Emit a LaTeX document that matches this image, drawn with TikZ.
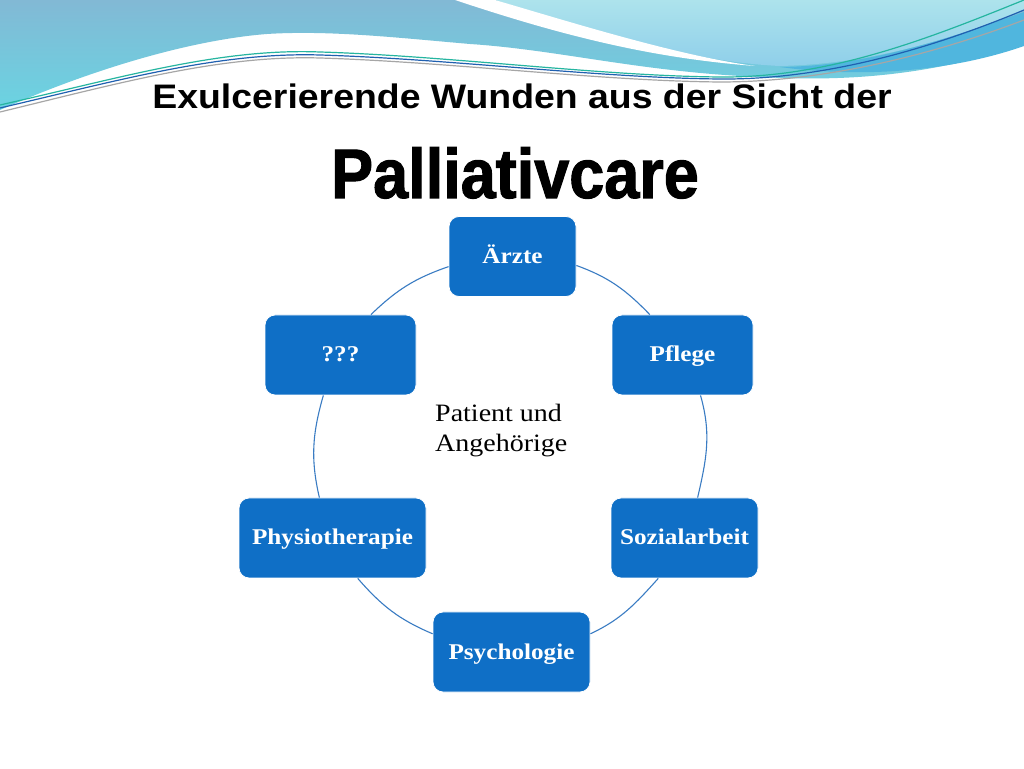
\documentclass[tikz,border=0pt]{standalone}
\usepackage{fontspec}
\setmainfont{Liberation Serif}
\newfontfamily\boxfont{Liberation Serif}[FakeStretch=1.12]
\newfontfamily\headfont{Liberation Sans}[FakeStretch=1.1]
\newfontfamily\bigfont{Liberation Sans}[FakeStretch=0.9,FakeBold=1.5]
\definecolor{teamblue}{HTML}{0F6FC6}
\definecolor{ringblue}{HTML}{3A7CC3}
\definecolor{waveblue}{HTML}{82B9D5}
\definecolor{wavecyan}{HTML}{6AD4E2}
\definecolor{palecyan}{HTML}{ADE3EC}
\definecolor{skycyan}{HTML}{8FCFEA}
\definecolor{bandblue}{HTML}{50B6DE}
\definecolor{lineteal}{HTML}{25B5A0}
\definecolor{linedark}{HTML}{2060B0}
\begin{document}
\begin{tikzpicture}[x=1pt,y=1pt,tb/.style={draw=white,line width=0.8pt,fill=teamblue,
					rounded corners=10pt,minimum height=80pt,inner sep=0pt,text=white,
					font=\boxfont\bfseries\fontsize{22.5}{27}\selectfont,text height=18pt,text depth=4pt},
					ln/.style={draw=ringblue,line width=1.1pt}]
		\useasboundingbox (0,0) rectangle (1024,768);
		\fill[white] (0,0) rectangle (1024,768);
		% waves on top
		\begin{scope}[shift={(0,768)},yscale=-1]
			\shade[top color=waveblue,bottom color=wavecyan] (0,0) -- (1024,0) -- (1024,45)
				.. controls (930,75) and (850,82) .. (760,77)
				.. controls (640,72) and (560,50) .. (470,44)
				.. controls (400,38) and (330,30) .. (267,34)
				.. controls (190,40) and (90,70) .. (0,110) -- cycle;
			\shade[top color=palecyan,bottom color=skycyan] (495,0) -- (1024,0) -- (1024,10)
				.. controls (950,40) and (870,64) .. (780,66)
				.. controls (690,62) and (590,30) .. (495,0) -- cycle;
			\fill[bandblue] (780,67) .. controls (870,66) and (950,38) .. (1024,12) -- (1024,46)
				.. controls (950,72) and (860,78) .. (780,67) -- cycle;
			\fill[white] (455,0) .. controls (560,35) and (650,58) .. (755,66)
				.. controls (680,56) and (580,25) .. (495,0) -- cycle;
			\draw[lineteal,line width=1.2pt] (0,105) .. controls (120,78) and (220,48) .. (320,52)
				.. controls (450,56) and (600,76) .. (720,77) .. controls (830,78) and (930,38) .. (1024,0);
			\draw[linedark,line width=1.2pt] (0,108) .. controls (120,80) and (220,52) .. (320,55)
				.. controls (450,59) and (600,78) .. (720,79) .. controls (830,80) and (940,45) .. (1024,10);
			\draw[gray!70,line width=1.2pt] (0,112) .. controls (120,83) and (220,55) .. (320,58)
				.. controls (450,62) and (600,81) .. (720,82) .. controls (830,82) and (940,52) .. (1024,20);
		\end{scope}
		% titles
		\node[anchor=base,font=\headfont\bfseries\fontsize{34}{40}\selectfont] (title) at (522,659)
			{Exulcerierende Wunden aus der Sicht der};
		\node[anchor=base,font=\bigfont\bfseries\fontsize{70}{80}\selectfont] (palli) at (515,570)
			{Palliativcare};
		% team
		\node[tb,minimum width=127pt] (arzte) at (512.5,511.5) {Ärzte};
		\node[tb,minimum width=141pt] (pflege) at (682.5,413) {Pflege};
		\node[tb,minimum width=147pt] (sozial) at (684.5,230) {Sozialarbeit};
		\node[tb,minimum width=157pt] (psych) at (511.5,116) {Psychologie};
		\node[tb,minimum width=187pt] (physio) at (332.5,230) {Physiotherapie};
		\node[tb,minimum width=151pt] (unk) at (340.5,413) {???};
		\node[anchor=base west,align=left,inner sep=0pt,font=\boxfont\fontsize{25}{30}\selectfont] (pat) at (435,316)
			{Patient und\\Angehörige};
		\draw[ln] (arzte.-8.6) to[out=-20,in=134] (pflege.129);
		\draw[ln] (pflege.-66) to[out=-74,in=77] (sozial.72);
		\draw[ln] (sozial.-123) to[out=-132,in=25] (psych.13);
		\draw[ln] (psych.167) to[out=157,in=-49] (physio.-58);
		\draw[ln] (physio.108) to[out=103,in=-106] (unk.-113);
		\draw[ln] (unk.53) to[out=44,in=199] (arzte.189);
	\end{tikzpicture}
\end{document}
